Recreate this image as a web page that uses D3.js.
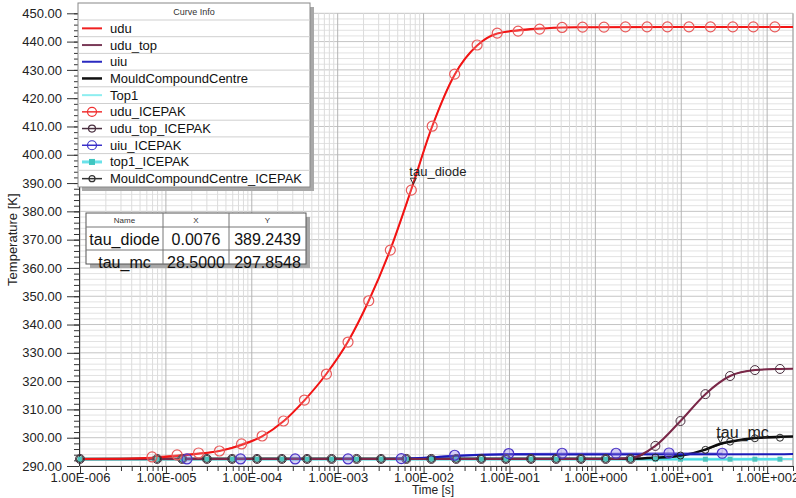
<!DOCTYPE html>
<html>
<head>
<meta charset="utf-8">
<script src="https://cdn.jsdelivr.net/npm/d3@7"></script>
<style>
  body { margin: 0; background: #fff; }
  svg { display: block; font-family: "Liberation Sans", Arial, sans-serif; }
</style>
</head>
<body>
<div id="chart"></div>
<script>
// ---- values ----
// solid curves
const uduTime = [1e-6, 3e-6, 6.9e-6, 1.35e-5, 2.4e-5, 4.2e-5, 7.6e-5, 1.32e-4, 2.34e-4, 4.1e-4, 7.4e-4, 1.32e-3, 2.3e-3, 4.1e-3, 7.2e-3, 1.26e-2, 2.3e-2, 4.2e-2, 7.2e-2, 0.126, 0.224, 0.41, 1, 10, 200];
const uduTemp = [292.5, 292.6, 292.9, 293.5, 294.3, 295.3, 297.4, 300.5, 305.8, 313.2, 322.6, 334.0, 348.4, 366.5, 387.8, 410.0, 428.3, 438.6, 442.8, 444.0, 444.6, 445.0, 445.1, 445.2, 445.2];
const uduTopTime = [1e-6, 1.32, 2.57, 5.0, 9.8, 19.1, 37, 72, 141, 200];
const uduTopTemp = [292.5, 292.5, 292.8, 297.1, 305.9, 315.4, 321.8, 323.9, 324.3, 324.4];
const uiuTime = [1e-6, 3e-3, 8e-3, 2.2e-2, 4.2e-2, 0.1, 1, 200];
const uiuTemp = [292.5, 292.5, 292.7, 293.5, 293.9, 294.1, 294.1, 294.2];
const mcTime = [1e-6, 2.57, 5.0, 9.8, 19.1, 28.5, 37, 72, 141, 200];
const mcTemp = [292.5, 292.6, 292.9, 293.6, 295.8, 297.85, 298.6, 299.9, 300.3, 300.4];
const top1Time = [1e-6, 5, 200];
const top1Temp = [292.4, 292.4, 292.5];

// ICEPAK points
const uduIceTime = [6.9e-6, 1.35e-5, 2.4e-5, 4.2e-5, 7.6e-5, 1.32e-4, 2.34e-4, 4.1e-4, 7.4e-4, 1.32e-3, 2.3e-3, 4.1e-3, 7.2e-3, 1.26e-2, 2.3e-2, 4.2e-2, 7.2e-2, 0.126, 0.224, 0.41, 0.71, 1.26, 2.24, 4.0, 6.9, 12.3, 21.9, 39.8, 69, 123];
const uduIceTemp = [293.2, 293.9, 294.6, 295.3, 297.8, 300.6, 305.9, 313.3, 322.5, 333.8, 348.4, 366.3, 387.5, 410.1, 428.5, 438.8, 443.0, 443.7, 444.4, 445.0, 445.1, 445.1, 445.2, 445.2, 445.2, 445.2, 445.2, 445.2, 445.2, 445.2];
const iceTime = [1e-6, 7.9e-6, 1.55e-5, 3.0e-5, 5.9e-5, 1.15e-4, 2.24e-4, 4.4e-4, 8.5e-4, 1.66e-3, 3.2e-3, 6.3e-3, 1.23e-2, 2.4e-2, 4.7e-2, 9.1e-2, 0.178, 0.35, 0.68, 1.32, 2.57, 5.0, 9.8, 19.1, 37, 72, 141];
const uduTopIceTemp = [292.5, 292.5, 292.5, 292.5, 292.5, 292.5, 292.5, 292.5, 292.5, 292.5, 292.5, 292.5, 292.5, 292.5, 292.5, 292.5, 292.5, 292.5, 292.5, 292.5, 292.5, 297.1, 305.9, 315.4, 321.8, 323.9, 324.3];
const mcIceTemp = [292.5, 292.5, 292.5, 292.5, 292.5, 292.5, 292.5, 292.5, 292.5, 292.5, 292.5, 292.5, 292.5, 292.5, 292.5, 292.5, 292.5, 292.5, 292.5, 292.5, 292.5, 293.0, 293.7, 295.7, 298.6, 299.8, 300.0];
const top1IceTemp = [292.4, 292.4, 292.4, 292.4, 292.4, 292.4, 292.4, 292.4, 292.4, 292.4, 292.4, 292.4, 292.4, 292.4, 292.4, 292.4, 292.4, 292.4, 292.4, 292.4, 292.4, 292.4, 292.4, 292.4, 292.4, 292.4, 292.4];
const uiuIceTime = [1.76e-5, 7.4e-5, 3.2e-4, 1.32e-3, 5.5e-3, 2.3e-2, 9.8e-2, 0.41, 1.74, 7.2, 30];
const uiuIceTemp = [292.5, 292.5, 292.5, 292.5, 292.6, 293.8, 294.4, 294.5, 294.5, 294.6, 294.5];

// markers / table
const markerNames = ["tau_diode", "tau_mc"];
const markerX = [0.0076, 28.5];
const markerY = [389.2439, 297.8548];

// axes
const xTicks = [1e-6, 1e-5, 1e-4, 1e-3, 1e-2, 1e-1, 1e0, 1e1, 1e2];
const yTicks = [290, 300, 310, 320, 330, 340, 350, 360, 370, 380, 390, 400, 410, 420, 430, 440, 450];

const legendNames = ["udu", "udu_top", "uiu", "MouldCompoundCentre", "Top1",
  "udu_ICEPAK", "udu_top_ICEPAK", "uiu_ICEPAK", "top1_ICEPAK", "MouldCompoundCentre_ICEPAK"];

// ---- drawing ----
const width = 796, height = 498;
const svg = d3.select("#chart").append("svg")
  .attr("width", width)
  .attr("height", height);

const x = d3.scaleLog().domain([1e-6, 200]).range([80, 793]);
const y = d3.scaleLinear().domain([290, 450]).range([466, 13.3]);

// grid
const grid = svg.append("g");
const minorX = [];
xTicks.forEach(d => { for (let m = 2; m <= 9; m++) if (d * m <= 200) minorX.push(d * m); });
grid.selectAll(".hmin").data(d3.range(290, 451, 2)).join("line")
  .attr("x1", 80).attr("x2", 793)
  .attr("y1", d => y(d)).attr("y2", d => y(d))
  .attr("stroke", d => d % 10 === 0 ? "#c4c4c4" : "#e2e2e2").attr("stroke-width", 1);
grid.selectAll(".vmin").data(minorX).join("line")
  .attr("x1", d => x(d)).attr("x2", d => x(d))
  .attr("y1", y(450)).attr("y2", y(290))
  .attr("stroke", "#dcdcdc");
grid.selectAll(".vmaj").data(xTicks).join("line")
  .attr("x1", d => x(d)).attr("x2", d => x(d))
  .attr("y1", y(450)).attr("y2", y(290))
  .attr("stroke", "#b4b4b4");
svg.append("line").attr("x1", 793).attr("x2", 793).attr("y1", y(450)).attr("y2", y(290))
  .attr("stroke", "#999");

// axes
const fmtE = d => {
  const e = Math.round(Math.log10(d));
  return "1.00E" + (e < 0 ? "-" : "+") + String(Math.abs(e)).padStart(3, "0");
};
const xAxis = svg.append("g").attr("transform", `translate(0,${y(290)})`)
  .call(d3.axisBottom(x).tickValues(xTicks).tickFormat(fmtE).tickSize(8).tickSizeOuter(0));
svg.append("g").attr("transform", `translate(0,${y(290)})`)
  .call(d3.axisBottom(x).tickValues(minorX).tickFormat("").tickSize(5).tickSizeOuter(0))
  .select(".domain").remove();
const yAxis = svg.append("g").attr("transform", "translate(79,0)")
  .call(d3.axisLeft(y).tickValues(yTicks).tickFormat(d3.format(".2f")).tickSize(12).tickSizeOuter(0));
svg.append("g").attr("transform", "translate(79,0)")
  .call(d3.axisLeft(y).tickValues(d3.range(290, 451, 2)).tickFormat("").tickSize(5).tickSizeOuter(0))
  .select(".domain").remove();
svg.selectAll(".tick text").attr("font-size", 13).attr("fill", "#222")
  .attr("font-family", "'Liberation Sans', Arial, sans-serif");
xAxis.selectAll(".tick text").attr("dy", "0.9em").attr("y", 4);
yAxis.selectAll(".tick text").attr("x", -17);
svg.selectAll(".domain, .tick line").attr("stroke", "#333");

svg.append("text").attr("x", 433).attr("y", 494).attr("text-anchor", "middle")
  .attr("font-size", 12).attr("fill", "#222").text("Time [s]");
svg.append("text").attr("transform", `translate(17,${(y(290) + y(450)) / 2}) rotate(-90)`)
  .attr("text-anchor", "middle").attr("font-size", 13).attr("fill", "#222").text("Temperature [K]");

// curves
const line = d3.line().x(d => x(d[0])).y(d => y(d[1])).curve(d3.curveMonotoneX);
const zip = (a, b) => a.map((t, i) => [t, b[i]]);
const plot = svg.append("g");

const curves = [
  { data: zip(iceTime, top1IceTemp), color: "#7fe8ec", w: 3 },
  { data: zip(top1Time, top1Temp), color: "#44dde6", w: 1.5 },
  { data: zip(iceTime, mcIceTemp), color: "#333", w: 1 },
  { data: zip(mcTime, mcTemp), color: "#0b0b0b", w: 2.5 },
  { data: zip(uiuIceTime, uiuIceTemp), color: "#4a3ad0", w: 1 },
  { data: zip(uiuTime, uiuTemp), color: "#1a1ab8", w: 2 },
  { data: zip(iceTime, uduTopIceTemp), color: "#4a2a3c", w: 1 },
  { data: zip(uduTopTime, uduTopTemp), color: "#7a2748", w: 2 },
  { data: zip(uduIceTime, uduIceTemp), color: "#f05050", w: 1 },
  { data: zip(uduTime, uduTemp), color: "#f21414", w: 2 }
];
plot.selectAll("path").data(curves).join("path")
  .attr("d", d => line(d.data))
  .attr("fill", "none")
  .attr("stroke", d => d.color)
  .attr("stroke-width", d => d.w);

// ICEPAK markers
plot.append("g").selectAll("rect").data(zip(iceTime, top1IceTemp)).join("rect")
  .attr("x", d => x(d[0]) - 2.5).attr("y", d => y(d[1]) - 2.5)
  .attr("width", 5).attr("height", 5).attr("fill", "#4cc4bc");
plot.append("g").selectAll("circle").data(zip(iceTime, mcIceTemp)).join("circle")
  .attr("cx", d => x(d[0])).attr("cy", d => y(d[1])).attr("r", 3.5)
  .attr("fill", "none").attr("stroke", "#2a2a2a").attr("stroke-width", 1);
plot.append("g").selectAll("circle").data(zip(iceTime, uduTopIceTemp)).join("circle")
  .attr("cx", d => x(d[0])).attr("cy", d => y(d[1])).attr("r", 4.5)
  .attr("fill", "none").attr("stroke", "#4a3040").attr("stroke-width", 1);
plot.append("g").selectAll("circle").data(zip(uiuIceTime, uiuIceTemp)).join("circle")
  .attr("cx", d => x(d[0])).attr("cy", d => y(d[1])).attr("r", 5)
  .attr("fill", "rgba(140,120,230,0.35)").attr("stroke", "#4b34c8").attr("stroke-width", 1.2);
plot.append("g").selectAll("circle").data(zip(uduIceTime, uduIceTemp)).join("circle")
  .attr("cx", d => x(d[0])).attr("cy", d => y(d[1])).attr("r", 5)
  .attr("fill", "rgba(255,255,255,0.15)").attr("stroke", "#e85a5a").attr("stroke-width", 1.2);

// marker annotations
const marks = svg.append("g").selectAll("g").data(markerNames).join("g")
  .attr("transform", (d, i) => `translate(${x(markerX[i])},${y(markerY[i])})`);
marks.append("path").attr("d", "M-3,-7 L3,-7 L0,-1 Z")
  .attr("fill", "none").attr("stroke", "#333").attr("stroke-width", 1);
marks.append("text").attr("x", -4).attr("y", (d, i) => i === 0 ? -9 : -6)
  .attr("font-size", (d, i) => i === 0 ? 13 : 16).attr("fill", "#222").text(d => d);

// legend
const lg = svg.append("g");
const rowH = 16.7, lgTop = 3, lgLeft = 78, lgRight = 310, lgHead = 20;
const lgBottom = lgHead + rowH * legendNames.length;
lg.append("rect").attr("x", lgLeft + 4).attr("y", lgTop + 4)
  .attr("width", lgRight - lgLeft).attr("height", lgBottom - lgTop).attr("fill", "#a8a8a8");
lg.append("rect").attr("x", lgLeft).attr("y", lgTop)
  .attr("width", lgRight - lgLeft).attr("height", lgBottom - lgTop)
  .attr("fill", "#fff").attr("stroke", "#888");
lg.append("text").attr("x", (lgLeft + lgRight) / 2).attr("y", 15).attr("text-anchor", "middle")
  .attr("font-size", 9).attr("fill", "#333").text("Curve Info");
const legendStyle = [
  { c: "#f02020", w: 2 }, { c: "#7a3a58", w: 2 }, { c: "#2a2ac0", w: 2 }, { c: "#111", w: 2.5 }, { c: "#8eeef0", w: 2 },
  { c: "#f03030", w: 1.5, m: "c", r: 4.5 }, { c: "#4a3040", w: 1.5, m: "c", r: 3.5 }, { c: "#3a30c8", w: 1.5, m: "c", r: 4.5 },
  { c: "#6ae2ea", w: 3, m: "s" }, { c: "#333", w: 1.5, m: "c", r: 3 }
];
const rows = lg.selectAll(".row").data(legendNames).join("g")
  .attr("transform", (d, i) => `translate(0,${lgHead + rowH * i})`);
rows.append("line").attr("x1", lgLeft).attr("x2", lgRight).attr("y1", 0).attr("y2", 0)
  .attr("stroke", "#cfcfcf");
rows.append("line").attr("x1", 82).attr("x2", 102).attr("y1", rowH / 2).attr("y2", rowH / 2)
  .attr("stroke", (d, i) => legendStyle[i].c).attr("stroke-width", (d, i) => legendStyle[i].w);
rows.filter((d, i) => legendStyle[i].m === "c").append("circle")
  .attr("cx", 92).attr("cy", rowH / 2).attr("r", d => legendStyle[legendNames.indexOf(d)].r)
  .attr("fill", "none").attr("stroke", d => legendStyle[legendNames.indexOf(d)].c).attr("stroke-width", 1.2);
rows.filter((d, i) => legendStyle[i].m === "s").append("rect")
  .attr("x", 89).attr("y", rowH / 2 - 3).attr("width", 6).attr("height", 6).attr("fill", "#3fc6c0");
rows.append("text").attr("x", 110).attr("y", rowH / 2 + 4.5)
  .attr("font-size", 13).attr("fill", "#111").text(d => d);

// value table
const tb = svg.append("g");
const cols = [86, 163, 229, 306], rowsY = [213, 227, 250, 264];
tb.append("rect").attr("x", cols[0] + 4).attr("y", rowsY[0] + 4)
  .attr("width", cols[3] - cols[0]).attr("height", rowsY[3] - rowsY[0]).attr("fill", "#a8a8a8");
tb.append("rect").attr("x", cols[0]).attr("y", rowsY[0])
  .attr("width", cols[3] - cols[0]).attr("height", rowsY[3] - rowsY[0])
  .attr("fill", "#fff").attr("stroke", "#555");
[cols[1], cols[2]].forEach(cx => tb.append("line").attr("x1", cx).attr("x2", cx)
  .attr("y1", rowsY[0]).attr("y2", rowsY[3]).attr("stroke", "#777"));
[rowsY[1], rowsY[2]].forEach(cy => tb.append("line").attr("x1", cols[0]).attr("x2", cols[3])
  .attr("y1", cy).attr("y2", cy).attr("stroke", "#777"));
["Name", "X", "Y"].forEach((h, j) => tb.append("text")
  .attr("x", (cols[j] + cols[j + 1]) / 2).attr("y", rowsY[0] + 10).attr("text-anchor", "middle")
  .attr("font-size", 8).attr("fill", "#333").text(h));
markerNames.forEach((n, i) => {
  const cells = [n, d3.format(".4f")(markerX[i]), d3.format(".4f")(markerY[i])];
  cells.forEach((c, j) => tb.append("text")
    .attr("x", (cols[j] + cols[j + 1]) / 2).attr("y", rowsY[i + 1] + 17.5).attr("text-anchor", "middle")
    .attr("font-size", 16).attr("fill", "#111").text(c));
});
</script>
</body>
</html>
